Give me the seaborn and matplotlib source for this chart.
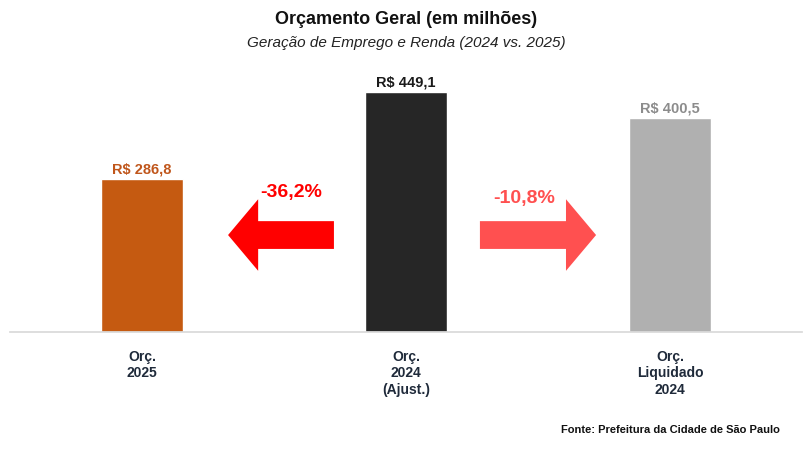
import matplotlib
matplotlib.use("Agg")
import matplotlib.pyplot as plt
import seaborn as sns
import pandas as pd
from matplotlib.patches import FancyArrow

categories = ["Orç.\n2025", "Orç.\n2024\n(Ajust.)", "Orç.\nLiquidado\n2024"]
values = [286.8, 449.1, 400.5]
value_labels = ["R$ 286,8", "R$ 449,1", "R$ 400,5"]
changes = ["-36,2%", "-10,8%"]

bar_colors = ["#c55a11", "#262626", "#b0b0b0"]
label_colors = ["#c0561b", "#1a1a1a", "#8c8c8c"]

sns.set_theme(style="white")
plt.rcParams["font.family"] = ["Liberation Sans", "DejaVu Sans"]

fig = plt.figure(figsize=(8.12, 4.56), dpi=100)
ax = fig.add_axes([10 / 812, (456 - 333) / 456, 792 / 812, 273 / 456])

df = pd.DataFrame({"cat": categories, "val": values})
sns.barplot(data=df, x="cat", y="val", hue="cat", palette=bar_colors,
            width=0.31, legend=False, ax=ax, saturation=1)
ax.set_xlim(-0.5, 2.5)
ax.set_ylim(0, 511)
for s in ["top", "right", "left"]:
    ax.spines[s].set_visible(False)
ax.spines["bottom"].set_color("#d9d9d9")
ax.set_yticks([])
ax.set_xlabel("")
ax.set_ylabel("")
ax.set_xticks(range(3))
ax.set_xticklabels(categories, fontsize=10, fontweight="bold", color="#1f2a3a",
                   linespacing=1.25)
ax.tick_params(axis="x", length=0, pad=12)

for i, (v, lab) in enumerate(zip(values, value_labels)):
    ax.text(i, v + 6, lab, ha="center", va="bottom", fontsize=10.5,
            fontweight="bold", color=label_colors[i])

# arrows
yc = 181.5
ax.add_patch(FancyArrow(0.727, yc, -0.401 + 0.114, 0, width=52, head_width=134,
                        head_length=0.114, length_includes_head=False,
                        color="#ff0000", lw=0))
ax.add_patch(FancyArrow(1.28, yc, 0.44 - 0.114, 0, width=52, head_width=134,
                        head_length=0.114, length_includes_head=False,
                        color="#ff5050", lw=0))
ax.text((291 - 142) / 264, (333 - 192) / 0.5344, changes[0], ha="center", va="center",
        fontsize=14, fontweight="bold", color="#ff0000")
ax.text((524 - 142) / 264, (333 - 198) / 0.5344, changes[1], ha="center", va="center",
        fontsize=14, fontweight="bold", color="#ff5050")

fig.text(0.5, 1 - 20 / 456, "Orçamento Geral (em milhões)", ha="center", va="center",
         fontsize=13, fontweight="bold", color="#111111")
fig.text(0.5, 1 - 43 / 456, "Geração de Emprego e Renda (2024 vs. 2025)", ha="center",
         va="center", fontsize=11, style="italic", color="#222222")
fig.text(780 / 812, 1 - 430 / 456, "Fonte: Prefeitura da Cidade de São Paulo",
         ha="right", va="center", fontsize=8, fontweight="bold", color="#111111")

fig.savefig("out.png", dpi=100)
